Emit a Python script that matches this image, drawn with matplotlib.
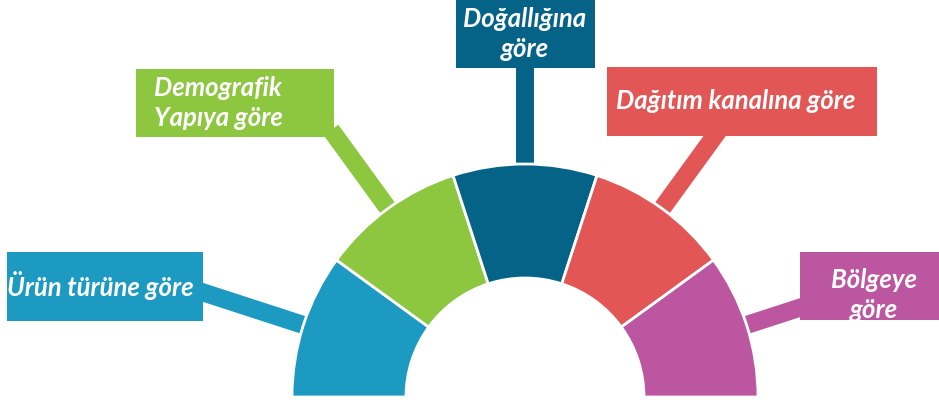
import matplotlib.pyplot as plt
import numpy as np
from matplotlib.patches import Rectangle

W, H = 939, 405

# --- content ---
labels = ["Ürün türüne göre", "Demografik\nYapıya göre", "Doğallığına\ngöre",
          "Dağıtım kanalına göre", "Bölgeye\ngöre"]
shares = [1, 1, 1, 1, 1]
colors = ["#1d9ac2", "#8dc63f", "#056387", "#e35656", "#bd56a0"]

# --- layout, pixel coords with y measured from the top of the image ---
CX, CY = 525, 397
R_OUT, R_IN = 233, 119
boxes = [(7, 252, 203, 321), (136, 69, 334, 137), (456, 0, 595, 68),
         (607, 67, 877, 136), (800, 252, 945, 320)]          # x0, y0, x1, y1
text_pos = [(100, 285), (154, 103), (525, 34), (736, 101), (874, 295)]
text_ha = ["center", "left", "center", "center", "center"]
conn_end = [350, 330, 340, 335, 300]   # radius where each connector stops

FONT = ["Lato", "DejaVu Sans"]

fig = plt.figure(figsize=(W / 100, H / 100), dpi=100)
ax = fig.add_axes([0, 0, 1, 1])

# half donut: the five segments plus an invisible lower half
wedges, _ = ax.pie(shares + [sum(shares)], colors=colors + ["none"],
                   startangle=180, counterclock=False, radius=R_OUT,
                   center=(CX, H - CY),
                   wedgeprops=dict(width=R_OUT - R_IN, edgecolor="white",
                                   linewidth=2, zorder=3))
wedges[-1].set_edgecolor("none")

total = sum(shares)
mids = 180 - (np.cumsum(shares) - np.array(shares) / 2) / total * 180

for i, lab in enumerate(labels):
    a = np.deg2rad(mids[i])
    r0, r1 = R_OUT - 10, conn_end[i]
    ax.plot([CX + r0 * np.cos(a), CX + r1 * np.cos(a)],
            [H - CY + r0 * np.sin(a), H - CY + r1 * np.sin(a)],
            color=colors[i], lw=13, solid_capstyle="butt", zorder=1)
    x0, y0, x1, y1 = boxes[i]
    ax.add_patch(Rectangle((x0, H - y1), x1 - x0, y1 - y0,
                           facecolor=colors[i], edgecolor="none", zorder=4))
    tx, ty = text_pos[i]
    ax.text(tx, H - ty, lab, ha=text_ha[i], va="center", color="white",
            fontsize=18.5, fontweight="bold", fontstyle="italic", family=FONT,
            linespacing=1.3, multialignment=text_ha[i], zorder=5)

ax.set_xlim(0, W)
ax.set_ylim(0, H)
ax.set_aspect("auto")
ax.axis("off")

fig.savefig("out.png", dpi=100)
